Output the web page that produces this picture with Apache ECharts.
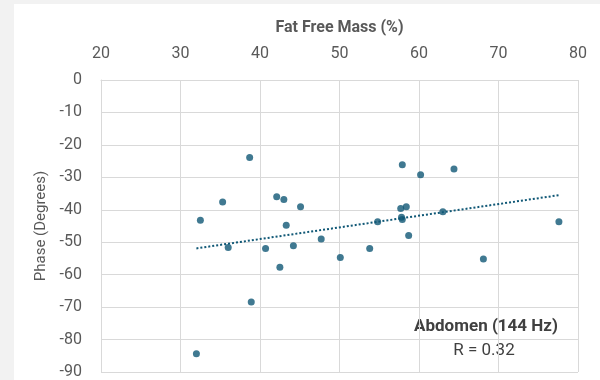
<!DOCTYPE html>
<html>
<head>
<meta charset="utf-8">
<script src="https://cdn.jsdelivr.net/npm/echarts@6/dist/echarts.min.js"></script>
<style>
  html, body { margin: 0; padding: 0; background: #f2f2f2; }
  #main { position: absolute; left: 14px; top: 4px; width: 586px; height: 376px; background: #fff; }
</style>
</head>
<body>
<div id="main"></div>
<script>
// Fat free mass (%) vs phase (degrees)
var fatFreeMass = [38.7, 35.3, 42.1, 43.0, 45.1, 32.5, 43.3, 47.7, 36.0, 40.7, 44.2,
  50.1, 42.5, 38.9, 32.0, 57.9, 60.2, 64.4, 57.7, 58.4, 57.8, 57.9, 54.8, 63.0,
  58.7, 53.8, 77.6, 68.1];
var phase = [-23.9, -37.6, -36.0, -36.8, -39.1, -43.2, -44.8, -49.0, -51.6, -51.9, -51.1,
  -54.7, -57.7, -68.4, -84.4, -26.1, -29.2, -27.4, -39.6, -39.1, -42.3, -43.0, -43.7, -40.6,
  -47.9, -51.9, -43.7, -55.2];

// linear trendline ends
var trendX = [32.0, 77.6];
var trendY = [-51.9, -35.5];

var chart = echarts.init(document.getElementById('main'));

var points = fatFreeMass.map(function (x, i) { return [x, phase[i]]; });
var trend = trendX.map(function (x, i) { return [x, trendY[i]]; });

var option = {
  animation: false,
  textStyle: { fontFamily: 'Roboto' },
  grid: {
    left: 87,
    right: 22,
    top: 76,
    bottom: 8
  },
  xAxis: {
    type: 'value',
    position: 'top',
    min: 20,
    max: 80,
    interval: 10,
    name: 'Fat Free Mass (%)',
    nameLocation: 'middle',
    nameGap: 44,
    nameTextStyle: { color: '#595959', fontSize: 16, fontWeight: 'bold' },
    axisLine: { show: true, lineStyle: { color: '#d9d9d9' } },
    axisTick: { show: false },
    axisLabel: { color: '#595959', fontSize: 16, margin: 18 },
    splitLine: { show: true, lineStyle: { color: '#d9d9d9', width: 1 } }
  },
  yAxis: {
    type: 'value',
    min: -90,
    max: 0,
    interval: 10,
    name: 'Phase (Degrees)',
    nameLocation: 'middle',
    nameGap: 48,
    nameTextStyle: { color: '#595959', fontSize: 15 },
    axisLine: { show: true, lineStyle: { color: '#d9d9d9' } },
    axisTick: { show: false },
    axisLabel: { color: '#595959', fontSize: 16, margin: 19 },
    splitLine: { show: true, lineStyle: { color: '#d9d9d9', width: 1 } }
  },
  series: [{
    name: 'Abdomen',
    type: 'scatter',
    symbolSize: 7,
    itemStyle: { color: '#105876' },
    data: points
  }, {
    name: 'Trend',
    type: 'line',
    showSymbol: false,
    silent: true,
    lineStyle: { color: '#105876', width: 2, type: [2, 2] },
    data: trend
  }],
  graphic: [{
    type: 'text',
    x: 486 - 14,
    y: 327 - 4,
    style: {
      text: 'Abdomen (144 Hz)', fill: '#404040', font: 'bold 17px Roboto',
      textAlign: 'center', textVerticalAlign: 'middle'
    }
  }, {
    type: 'text',
    x: 484 - 14,
    y: 351 - 4,
    style: {
      text: 'R = 0.32', fill: '#404040', font: '17px Roboto',
      textAlign: 'center', textVerticalAlign: 'middle'
    }
  }]
};

chart.setOption(option);
</script>
</body>
</html>
